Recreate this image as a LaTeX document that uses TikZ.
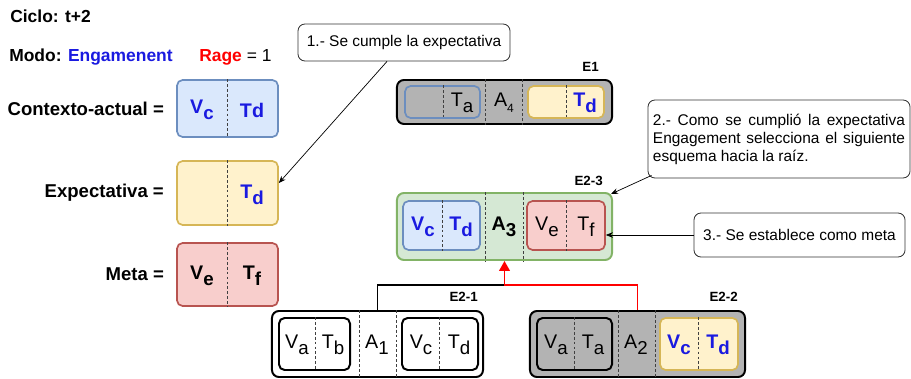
\documentclass[tikz,border=0pt]{standalone}
\usepackage{fontspec}
\setmainfont{Liberation Sans}
\usetikzlibrary{arrows.meta, positioning, calc}
\definecolor{ctxBlue}{HTML}{DAE8FC}
\definecolor{ctxBlueLine}{HTML}{6C8EBF}
\definecolor{expYellow}{HTML}{FFF2CC}
\definecolor{expYellowLine}{HTML}{D6B656}
\definecolor{metaRed}{HTML}{F8CECC}
\definecolor{metaRedLine}{HTML}{B85450}
\definecolor{rootGreen}{HTML}{D5E8D4}
\definecolor{rootGreenLine}{HTML}{82B366}
\definecolor{usedGray}{HTML}{B3B3B3}
\definecolor{txtBlue}{HTML}{1A1AE0}
\definecolor{txtRed}{HTML}{FF0000}
\newcommand{\lw}[1]{\raisebox{-0.55ex}{\scalebox{0.95}{#1}}}

\begin{document}
\begin{tikzpicture}[x=0.025cm, y=-0.025cm,
    frame/.style={draw=black, line width=1.4pt, rounded corners=5pt, inner sep=0pt},
    cellbox/.style={line width=1.2pt, rounded corners=4pt, inner sep=0pt},
    wh/.style 2 args={minimum width=#1cm, minimum height=#2cm},
    div/.style={black!75, line width=0.6pt, dash pattern=on 2pt off 1.5pt},
    cell/.style={font=\fontsize{14}{16}\selectfont, inner sep=0pt},
    cellb/.style={font=\fontsize{14}{16}\selectfont\bfseries, inner sep=0pt},
    side/.style={font=\fontsize{13.2}{15}\selectfont\bfseries, inner sep=0pt},
    head/.style={font=\fontsize{12.4}{14}\selectfont\bfseries, inner sep=0pt, anchor=base west},
    lbl/.style={font=\fontsize{9.5}{11}\selectfont\bfseries, inner sep=0pt, anchor=south east},
    note/.style={draw=black!80, line width=0.6pt, rounded corners=5pt, fill=white,
                 font=\fontsize{11}{12.8}\selectfont, inner sep=0pt},
    pointer/.style={-{Stealth[length=5pt, width=4pt]}, line width=0.5pt},
    tree/.style={line width=1.1pt, black},
    treeRed/.style={line width=1.3pt, txtRed, -{Triangle[length=7pt, width=7.5pt]}}
  ]
    \useasboundingbox (0,0) rectangle (911,379);

    % header
    \node[head] (ciclo) at (10,23) {Ciclo: t+2};
    \node[head] (modo) at (9,62) {Modo: \textcolor{txtBlue}{Engamenent}};
    \node[head] (rage) at (199,62) {\textcolor{txtRed}{Rage} \mdseries= 1};

    % current state
    \node[cellbox, draw=ctxBlueLine, fill=ctxBlue, wh={2.525}{1.425}] (ctx) at (227.5,108.5) {};
    \node[cellbox, draw=expYellowLine, fill=expYellow, wh={2.525}{1.6}] (exp) at (227.5,193) {};
    \node[cellbox, draw=metaRedLine, fill=metaRed, wh={2.525}{1.575}] (meta) at (227.5,274.5) {};
    \node[side, left=0.3cm of ctx] (ctxlbl) {Contexto-actual =};
    \node[side, left=0.3cm of exp] (explbl) {Expectativa =};
    \node[side, left=0.3cm of meta] (metalbl) {Meta =};

    % schemas
    \node[frame, fill=usedGray, wh={5.375}{1.1}] (e1) at (504.5,102) {};
    \node[cellbox, draw=ctxBlueLine, wh={1.875}{0.8}] (e1a) at (442.5,102) {};
    \node[cellbox, draw=expYellowLine, fill=expYellow, wh={1.9}{0.8}] (e1b) at (566,102) {};

    \node[frame, draw=rootGreenLine, fill=rootGreen, wh={5.375}{1.675}] (e23) at (504.5,226.5) {};
    \node[cellbox, draw=ctxBlueLine, fill=ctxBlue, wh={1.925}{1.225}] (e23a) at (441.5,225.5) {};
    \node[cellbox, draw=metaRedLine, fill=metaRed, wh={1.95}{1.225}] (e23b) at (566,225.5) {};

    \node[frame, fill=white, wh={5.275}{1.65}] (e21) at (377.5,344) {};
    \node[cellbox, draw=black, line width=1.4pt, wh={1.775}{1.3}] (e21a) at (314.5,344) {};
    \node[cellbox, draw=black, line width=1.4pt, wh={1.9}{1.3}] (e21b) at (440,344) {};

    \node[frame, fill=usedGray, wh={5.375}{1.65}] (e22) at (637.5,344) {};
    \node[cellbox, draw=black, line width=1.4pt, wh={1.875}{1.3}] (e22a) at (574.5,344) {};
    \node[cellbox, draw=expYellowLine, fill=expYellow, wh={1.95}{1.3}] (e22b) at (699,344) {};

    \foreach \dx/\bx in {227/ctx, 227/exp, 227/meta,
                         443/e1a, 485/e1, 522/e1, 566/e1b,
                         442/e23a, 485/e23, 523/e23, 566/e23b,
                         315/e21a, 359/e21, 396/e21, 439/e21b,
                         574/e22a, 618/e22, 655/e22, 698/e22b}
      \draw[div] (\bx.north -| \dx,0) -- (\bx.south -| \dx,0);

    \node[lbl] (e1lbl) at ($(e1.north east)+(-14,-7)$) {E1};
    \node[lbl] (e23lbl) at ($(e23.north east)+(-10,-6)$) {E2-3};
    \node[lbl] (e21lbl) at ($(e21.north east)+(-6,-8)$) {E2-1};
    \node[lbl] (e22lbl) at ($(e22.north east)+(-8,-8)$) {E2-2};

    % cell texts
    \node[cellb, txtBlue] (ctxv) at (202,110) {V\lw{c}};
    \node[cellb, txtBlue] (ctxt) at (252,110) {Td};
    \node[cellb, txtBlue] (expt) at (252,195) {T\lw{d}};
    \node[cellb] (metav) at (202,276) {V\lw{e}};
    \node[cellb] (metat) at (252,276) {T\lw{f}};

    \node[cell] (e1t) at (462,103) {T\lw{a}};
    \node[cell] (e1act) at (504,103) {A\lw{\small 4}};
    \node[cellb, txtBlue] (e1d) at (585,103) {T\lw{d}};

    \node[cellb, txtBlue] (e23v) at (423,227) {V\lw{c}};
    \node[cellb, txtBlue] (e23t) at (461,227) {T\lw{d}};
    \node[cellb] (e23act) at (504,227) {A\lw{3}};
    \node[cell] (e23ve) at (547,227) {V\lw{e}};
    \node[cell] (e23tf) at (586,227) {T\lw{f}};

    \node[cell] (e21v) at (297,345) {V\lw{a}};
    \node[cell] (e21t) at (333,345) {T\lw{b}};
    \node[cell] (e21act) at (377,345) {A\lw{1}};
    \node[cell] (e21vc) at (421,345) {V\lw{c}};
    \node[cell] (e21td) at (459,345) {T\lw{d}};

    \node[cell] (e22v) at (556,345) {V\lw{a}};
    \node[cell] (e22t) at (593,345) {T\lw{a}};
    \node[cell] (e22act) at (636,345) {A\lw{2}};
    \node[cellb, txtBlue] (e22vc) at (679,345) {V\lw{c}};
    \node[cellb, txtBlue] (e22td) at (718,345) {T\lw{d}};

    % notes
    \node[note, wh={5.3}{0.925}] (call1) at (404,42.5) {1.- Se cumple la expectativa};
    \node[note, wh={6.55}{1.95}, text width=6.3cm, align=justify] (call2) at (779,139)
      {2.- Como se cumplió la expectativa Engagement selecciona el siguiente esquema hacia la raíz.};
    \node[note, wh={5.275}{1.1}] (call3) at (799.5,235) {3.- Se establece como meta};

    \draw[pointer] (call1.south -| 387,0) -- ($(exp.east)+(0,-10)$);
    \draw[pointer] ($(call2.south west)+(4,-3)$) -- ($(e23.north east)+(-2,2)$);
    \draw[pointer] (call3.west) -- (call3.west -| e23b.east);

    % tree
    \coordinate (join) at (504.5,285);
    \draw[tree] (e21.north) |- (join);
    \draw[treeRed] (e22.north) |- (join) -- (e23.south);
  \end{tikzpicture}
\end{document}
